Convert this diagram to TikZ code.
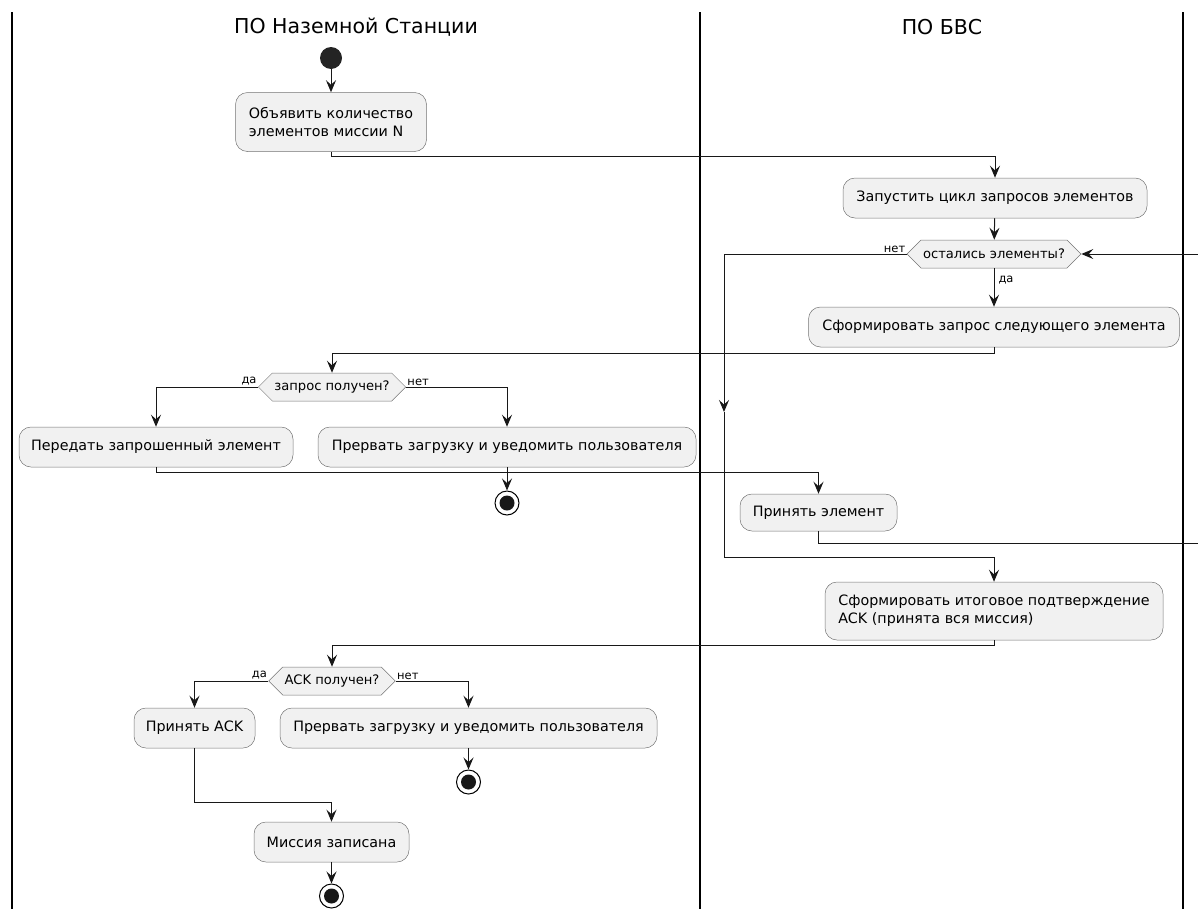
\documentclass[tikz,border=0pt]{standalone}
\usepackage{fontspec}
\setmainfont{DejaVu Sans}
\usetikzlibrary{arrows.meta,shapes.symbols}

\definecolor{actfill}{HTML}{F1F1F1}
\definecolor{actline}{HTML}{181818}

\begin{document}
\begin{tikzpicture}[x=1pt,y=-1pt,
    act/.style={draw=actline!60, line width=0.5pt, fill=actfill, rounded corners=12pt,
      minimum height=40pt, inner xsep=8pt, font=\fontsize{14.3}{18}\selectfont},
    hexa/.style={shape=signal, signal to=west and east, signal from=nowhere,
      draw=actline!60, line width=0.5pt, fill=actfill, minimum height=28pt,
      inner xsep=2pt, inner ysep=0pt, font=\fontsize{13.1}{15}\selectfont},
    flow/.style={draw=actline, line width=1pt, -{Stealth[length=12pt,width=10pt,inset=4.5pt]}},
    lane/.style={draw=black, line width=1.2pt},
    lbl/.style={font=\fontsize{11.5}{13}\selectfont, inner sep=1pt},
    lanetitle/.style={font=\fontsize{20.5}{24}\selectfont},
    startdot/.style={circle, fill=actline!95, minimum size=22pt, inner sep=0pt},
    stopdot/.style={circle, draw=black, line width=1pt, fill=white, minimum size=24pt, inner sep=0pt,
      path picture={\fill[actline] (path picture bounding box.center) circle (7.5pt);}}]

    \useasboundingbox (0,0) rectangle (1198,908);

    % swimlanes
    \foreach \x in {12,700,1183}
      \draw[lane] (\x,12) -- (\x,915);
    \node[lanetitle] (gstitle) at (356,27) {ПО Наземной Станции};
    \node[lanetitle] (uavtitle) at (942,27) {ПО БВС};

    % ground station
    \node[startdot] (start) at (331,58) {};
    \node[act, minimum width=191pt, minimum height=59pt, align=left] (announce) at (331,122)
      {Объявить количество\\элементов миссии N};
    \node[hexa, minimum width=144pt] (reqok) at (332,387) {запрос получен?};
    \node[act, minimum width=274pt] (send) at (156,447) {Передать запрошенный элемент};
    \node[act, minimum width=378pt] (abortreq) at (507,447) {Прервать загрузку и уведомить пользователя};
    \node[stopdot] (stopreq) at (507,503) {};
    \node[hexa, minimum width=124pt] (ackok) at (332,681) {ACK получен?};
    \node[act, minimum width=121pt] (takeack) at (194.5,728) {Принять ACK};
    \node[act, minimum width=377pt] (abortack) at (468.5,728) {Прервать загрузку и уведомить пользователя};
    \node[stopdot] (stopack) at (468.5,782) {};
    \node[act, minimum width=155pt] (saved) at (331.5,842) {Миссия записана};
    \node[stopdot] (stopend) at (331.5,896) {};

    % uav
    \node[act, minimum width=304pt] (loopstart) at (995,198) {Запустить цикл запросов элементов};
    \node[hexa, minimum width=173pt] (left) at (994,254) {остались элементы?};
    \node[act, minimum width=371pt] (request) at (994,327) {Сформировать запрос следующего элемента};
    \node[act, minimum width=157pt, minimum height=37pt] (receive) at (818.5,512.5) {Принять элемент};
    \node[act, minimum width=338pt, minimum height=58pt, align=left] (confirm) at (994,611)
      {Сформировать итоговое подтверждение\\ACK (принята вся миссия)};

    \coordinate (nomid) at (724,412);
    \coordinate (nojoin) at (724,557);
    \coordinate (looptop) at (1215,254);

    % connectors
    \draw[flow] (start) -- (announce);
    \draw[flow] (announce.south) -- ++(0,5) -| (loopstart.north);
    \draw[flow] (loopstart) -- (left);
    \draw[flow] (left.south) -- (request.north) node[lbl, pos=0.3, anchor=west, xshift=3pt] {да};
    \draw[flow] (left.west) node[lbl, anchor=south east] {нет} -| (nomid);
    \draw[flow] (nomid) -- (nojoin) -| (confirm.north);
    \draw[flow] (request.south) -- ++(0,6) -| (reqok.north);
    \draw[flow] (reqok.west) node[lbl, anchor=south east] {да} -| (send.north);
    \draw[flow] (reqok.east) node[lbl, anchor=south west] {нет} -| (abortreq.north);
    \draw[flow] (abortreq) -- (stopreq);
    \draw[flow] (send.south) -- ++(0,5) -| (receive.north);
    \draw[flow] (receive.south) -- ++(0,12) -| (looptop) -- (left.east);
    \draw[flow] (confirm.south) -- ++(0,5) -| (ackok.north);
    \draw[flow] (ackok.west) node[lbl, anchor=south east] {да} -| (takeack.north);
    \draw[flow] (ackok.east) node[lbl, anchor=south west] {нет} -| (abortack.north);
    \draw[flow] (abortack) -- (stopack);
    \draw[flow] (takeack.south) -- ++(0,54) -| (saved.north);
    \draw[flow] (saved) -- (stopend);
\end{tikzpicture}
\end{document}
